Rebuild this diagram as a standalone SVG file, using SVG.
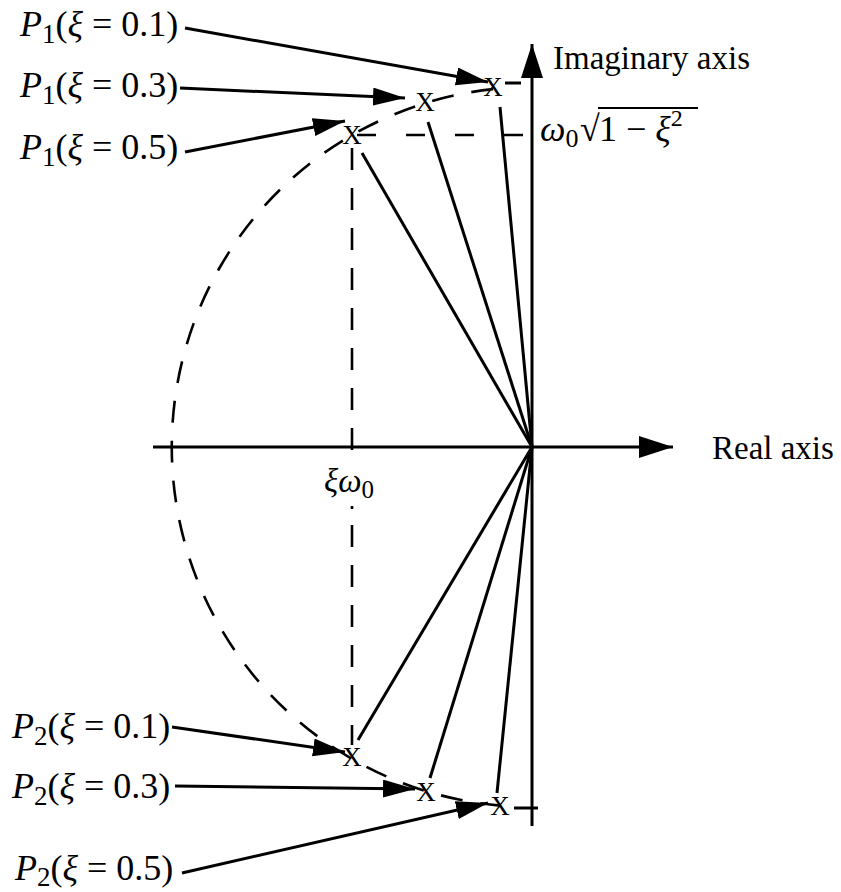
<svg xmlns="http://www.w3.org/2000/svg" width="841" height="892" viewBox="0 0 841 892">
<style>
text{font-family:"Liberation Serif","Times New Roman",serif;fill:#000}
.lbl{font-size:36px}
.it{font-style:italic}
.sub{font-size:27px}
.ln{stroke:#000;stroke-width:3;fill:none}
.dash{stroke:#000;stroke-width:2.6;fill:none;stroke-dasharray:22 18}
.hdash{stroke:#000;stroke-width:2.6;fill:none;stroke-dasharray:19 30}
.pole{font-size:27px;text-anchor:middle}
</style>
<defs>
<marker id="ah" markerUnits="userSpaceOnUse" markerWidth="34" markerHeight="20" refX="32" refY="9" orient="auto">
<path d="M0,0 L32,9 L0,18 Z" fill="#000"/>
</marker>
<marker id="axh" markerUnits="userSpaceOnUse" markerWidth="36" markerHeight="24" refX="34" refY="11" orient="auto">
<path d="M0,0 L34,11 L0,22 Z" fill="#000"/>
</marker>
</defs>
<g id="axes">
<line class="ln" x1="532" y1="826" x2="532" y2="44" marker-end="url(#axh)"/>
<line class="ln" x1="153" y1="447" x2="673" y2="447" marker-end="url(#axh)"/>
<text x="553" y="69" style="font-size:33px">Imaginary axis</text>
<text x="712" y="459" style="font-size:33px">Real axis</text>
</g>
<g id="guides">
<path class="dash" d="M493,89.1 A360,360 0 0 0 500,805.6"/>
<line class="dash" x1="352" y1="148" x2="352" y2="456"/>
<line class="dash" x1="352" y1="506" x2="352" y2="745" style="stroke-dasharray:3 16 22 18 22 18 22 18 22 18 22 18 22 18"/>
<line class="hdash" x1="357" y1="135" x2="532" y2="135"/>
<line class="ln" x1="505" y1="83" x2="521" y2="83"/>
<line class="ln" x1="514" y1="808" x2="538" y2="808"/>
<text x="324" y="492" style="font-size:33px"><tspan class="it">ξω</tspan><tspan style="font-size:25px" dy="6">0</tspan></text>
<g id="sqrtlabel">
<text x="540" y="141" style="font-size:36px"><tspan class="it">ω</tspan><tspan style="font-size:26px" dy="6">0</tspan></text>
<text x="580" y="141" style="font-size:36px">√</text>
<line x1="598" y1="108" x2="698" y2="108" stroke="#000" stroke-width="2"/>
<text x="599" y="141" style="font-size:36px">1 − <tspan class="it">ξ</tspan><tspan style="font-size:24px" dy="-15">2</tspan></text>
</g>
</g>
<g id="connectors">
<line class="ln" x1="532" y1="447" x2="500" y2="107"/>
<line class="ln" x1="532" y1="447" x2="428" y2="122"/>
<line class="ln" x1="532" y1="447" x2="362" y2="153"/>
<line class="ln" x1="532" y1="447" x2="358" y2="740"/>
<line class="ln" x1="532" y1="447" x2="430" y2="778"/>
<line class="ln" x1="532" y1="447" x2="497" y2="793"/>
<line class="ln" x1="185" y1="28" x2="488" y2="82" marker-end="url(#ah)"/>
<line class="ln" x1="180" y1="88" x2="405" y2="98" marker-end="url(#ah)"/>
<line class="ln" x1="185" y1="152" x2="345" y2="121" marker-end="url(#ah)"/>
<line class="ln" x1="172" y1="727" x2="345" y2="752" marker-end="url(#ah)"/>
<line class="ln" x1="175" y1="786" x2="415" y2="789" marker-end="url(#ah)"/>
<line class="ln" x1="182" y1="873" x2="488" y2="803" marker-end="url(#ah)"/>
</g>
<g id="poles">
<text class="pole" x="493" y="96">X</text>
<text class="pole" x="425" y="111">X</text>
<text class="pole" x="352" y="144">X</text>
<text class="pole" x="352" y="766">X</text>
<text class="pole" x="426" y="801">X</text>
<text class="pole" x="500" y="815">X</text>
</g>
<g id="label-p1-01"><text class="lbl" x="20" y="36"><tspan class="it">P</tspan><tspan class="sub" dy="7">1</tspan><tspan dy="-7">(</tspan><tspan class="it">ξ</tspan> = 0.1)</text></g>
<g id="label-p1-03"><text class="lbl" x="20" y="97"><tspan class="it">P</tspan><tspan class="sub" dy="7">1</tspan><tspan dy="-7">(</tspan><tspan class="it">ξ</tspan> = 0.3)</text></g>
<g id="label-p1-05"><text class="lbl" x="20" y="159"><tspan class="it">P</tspan><tspan class="sub" dy="7">1</tspan><tspan dy="-7">(</tspan><tspan class="it">ξ</tspan> = 0.5)</text></g>
<g id="label-p2-01"><text class="lbl" x="12" y="738"><tspan class="it">P</tspan><tspan class="sub" dy="7">2</tspan><tspan dy="-7">(</tspan><tspan class="it">ξ</tspan> = 0.1)</text></g>
<g id="label-p2-03"><text class="lbl" x="12" y="798"><tspan class="it">P</tspan><tspan class="sub" dy="7">2</tspan><tspan dy="-7">(</tspan><tspan class="it">ξ</tspan> = 0.3)</text></g>
<g id="label-p2-05"><text class="lbl" x="15" y="880"><tspan class="it">P</tspan><tspan class="sub" dy="6">2</tspan><tspan dy="-6">(</tspan><tspan class="it">ξ</tspan> = 0.5)</text></g>
</svg>
